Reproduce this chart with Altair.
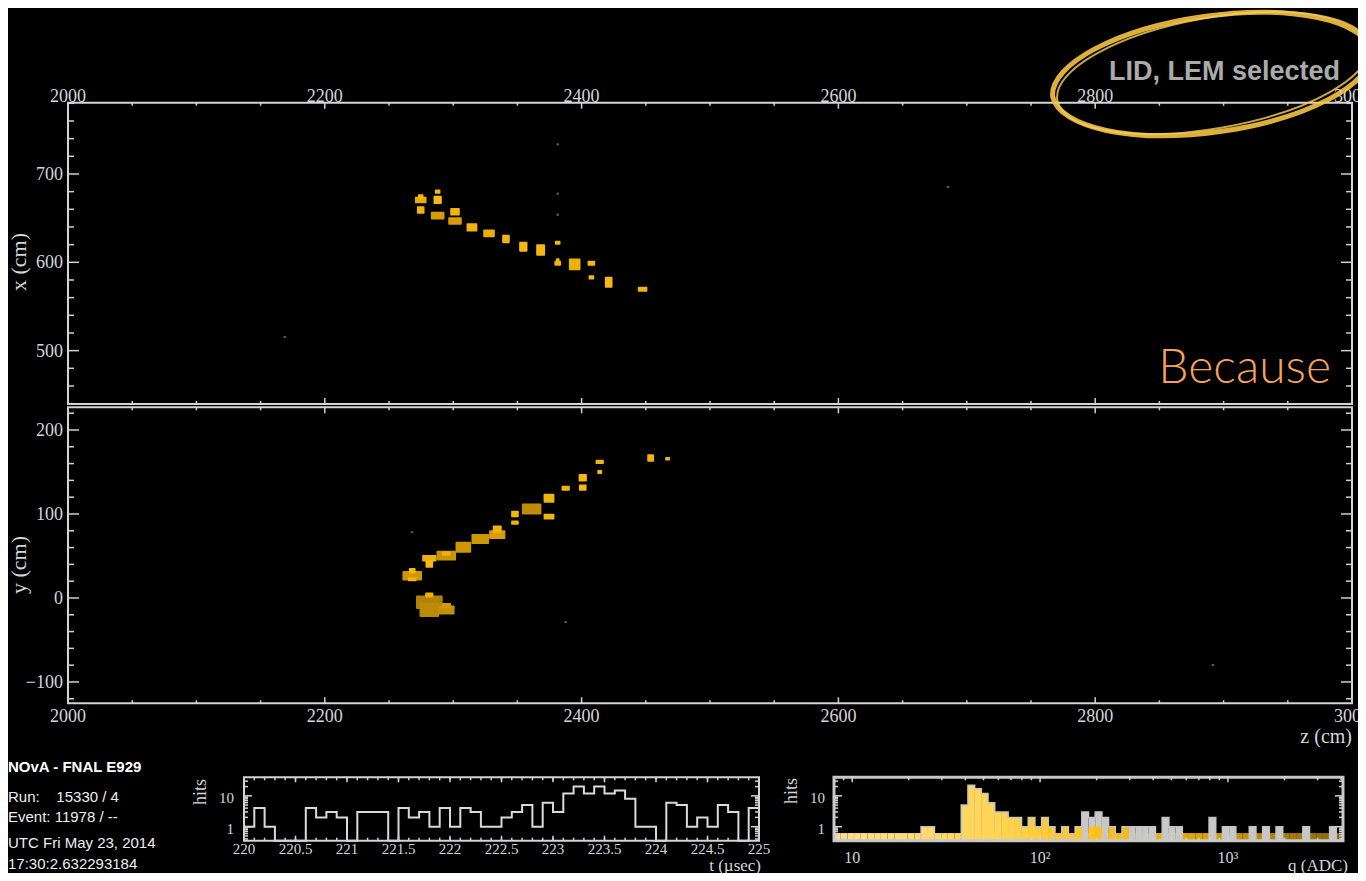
import altair as alt
import numpy as np
import pandas as pd

# ---------------- XZ view hits: z (cm), x (cm), extent dz, dx (cm), charge q (ADC)
xz_z = [2274.7, 2274.7, 2274.7, 2287.9, 2287.9, 2287.9, 2301.4, 2301.4, 2314.6, 2327.9, 2341.1,
        2354.6, 2368.1, 2381.4, 2381.4, 2381.4, 2394.6, 2407.6, 2407.6, 2421.1, 2447.5]
xz_x = [670.6, 674.5, 659.2, 680.0, 670.6, 652.8, 657.3, 646.8, 639.6, 632.8, 626.4,
        617.7, 613.9, 622.2, 598.9, 602.6, 597.7, 598.9, 583.0, 577.4, 569.4]
xz_dz = [7.8, 3.1, 4.7, 3.1, 5.2, 9.3, 6.2, 9.3, 7.2, 7.8, 4.7, 5.2, 5.7, 3.1, 3.9, 1.6, 7.8, 4.7, 3.1, 4.7, 6.2]
xz_dx = [5.7, 3.4, 6.8, 2.8, 7.6, 6.8, 6.8, 6.8, 7.6, 6.8, 7.6, 9.4, 11.3, 2.8, 3.8, 2.3, 11.3, 3.8, 3.0, 10.6, 3.8]
xz_q = [450, 300, 350, 300, 300, 800, 350, 800, 350, 450, 350, 300, 300, 300, 350, 300, 400, 300, 300, 300, 350]

# ---------------- YZ view hits
yz_z = [2268.1, 2294.6, 2307.9, 2321.1, 2361.1, 2281.4, 2281.4, 2294.6, 2334.3,
        2268.1, 2268.1, 2281.4, 2281.4, 2294.6, 2334.3, 2348.1, 2348.1, 2374.6, 2374.6, 2387.6,
        2400.9, 2400.9, 2414.1, 2414.1, 2453.8, 2467.0, 2281.4, 2294.6]
yz_y = [26.5, 50.4, 60.4, 70.2, 106.0, -5.1, -14.3, -14.3, 75.4,
        32.5, 22.3, 47.3, 40.5, 53.0, 81.8, 100.0, 89.7, 118.7, 96.8, 130.6,
        143.2, 131.3, 161.9, 150.0, 166.7, 165.8, 3.6, -9.2]
yz_dz = [14.0, 14.0, 10.9, 12.5, 14.0, 19.5, 14.0, 11.7, 11.4,
         3.9, 5.5, 9.9, 4.7, 5.5, 5.7, 4.7, 4.7, 7.2, 7.2, 5.2,
         5.2, 4.7, 5.2, 2.6, 4.1, 2.6, 5.2, 6.2]
yz_dy = [9.5, 9.5, 11.1, 9.9, 11.1, 13.9, 15.1, 8.7, 8.7,
         4.7, 3.0, 6.0, 7.1, 3.6, 7.1, 6.0, 3.2, 8.7, 5.1, 3.9,
         7.1, 5.6, 3.2, 2.8, 7.1, 2.4, 3.9, 4.8]
yz_q = [1000, 1100, 1000, 1000, 1300, 1800, 1400, 1200, 800,
        300, 350, 400, 300, 400, 350, 300, 350, 350, 350, 350,
        300, 300, 350, 350, 350, 350, 400, 900]

# ---------------- isolated (out-of-slice) hits
nz_xz_z = [2381.4, 2381.4, 2381.4, 2168.8, 2685.4]
nz_xz_x = [733.6, 677.7, 653.9, 515.4, 685.3]
nz_yz_z = [2267.9, 2387.6, 2891.7]
nz_yz_y = [78.3, -28.6, -79.8]

# ---------------- timing histogram (0.1 usec bins from 220 usec)
t_bins = [220.0, 220.1, 220.2, 220.3, 220.4, 220.5, 220.6, 220.7, 220.8, 220.9,
          221.0, 221.1, 221.2, 221.3, 221.4, 221.5, 221.6, 221.7, 221.8, 221.9,
          222.0, 222.1, 222.2, 222.3, 222.4, 222.5, 222.6, 222.7, 222.8, 222.9,
          223.0, 223.1, 223.2, 223.3, 223.4, 223.5, 223.6, 223.7, 223.8, 223.9,
          224.0, 224.1, 224.2, 224.3, 224.4, 224.5, 224.6, 224.7, 224.8, 224.9]
t_hits = [1, 4, 1, 0, 0, 0, 4, 2, 3, 2,
          0, 3, 3, 3, 0, 4, 2, 3, 1, 4,
          1, 4, 3, 1, 1, 2, 3, 5, 1, 6,
          3, 12, 20, 12, 20, 12, 15, 8, 1, 1,
          0, 6, 5, 1, 2, 1, 5, 3, 0, 4]

# ---------------- charge histogram (76 log bins, 8 .. 4096 ADC)
q_all = [0, 0, 0, 0, 0, 0, 0, 0, 0, 0, 0, 0, 0, 1, 1, 0, 0, 0, 0,
         5, 22, 17, 12, 6, 3, 3, 2, 2, 1, 2, 1, 2, 1, 0, 1, 0, 1,
         3, 2, 3, 2, 1, 0, 1, 1, 1, 1, 1, 0, 2, 1, 1, 0, 0, 0, 0, 2, 0, 1, 1,
         0, 0, 1, 0, 1, 0, 1, 0, 0, 0, 1, 0, 0, 0, 1, 0]
q_sel = [0, 0, 0, 0, 0, 0, 0, 0, 0, 0, 0, 0, 0, 1, 1, 0, 0, 0, 0,
         5, 22, 17, 12, 6, 3, 3, 2, 2, 1, 2, 1, 2, 1, 0, 1, 0, 1,
         0, 1, 1, 0, 1, 0, 1, 0, 0, 0, 0, 0, 0, 0, 0, 0, 0, 0, 0, 0, 0, 0, 0,
         0, 0, 0, 0, 0, 0, 0, 0, 0, 0, 0, 0, 0, 0, 0, 0]

# ---------------- axis ticks / labels
z_major = [2000, 2200, 2400, 2600, 2800, 3000]
z_minor = [2050, 2100, 2150, 2250, 2300, 2350, 2450, 2500, 2550, 2650, 2700, 2750, 2850, 2900, 2950]
xv_major = [500, 600, 700]
xv_minor = [440, 460, 480, 520, 540, 560, 580, 620, 640, 660, 680, 720, 740, 760, 780]
yv_major = [-100, 0, 100, 200]
yv_minor = [-120, -80, -60, -40, -20, 20, 40, 60, 80, 120, 140, 160, 180, 220]
t_major = [220, 220.5, 221, 221.5, 222, 222.5, 223, 223.5, 224, 224.5, 225]
t_labels = ['220', '220.5', '221', '221.5', '222', '222.5', '223', '223.5', '224', '224.5', '225']
t_minor = list(t_bins)
q_major = [10, 100, 1000]
q_labels = ['10', '10²', '10³']
q_minor = [9, 20, 30, 40, 50, 60, 70, 80, 90, 200, 300, 400, 500, 600, 700, 800, 900, 2000, 3000, 4000]
h_major = [1, 10]
h_minor = [0.4, 0.5, 0.6, 0.7, 0.8, 0.9, 2, 3, 4, 5, 6, 7, 8, 9, 20, 30]


def pv(v):
    return v - 8  # page pixel -> view pixel


# scales (plot-area placement given as scale ranges)
Z = alt.Scale(domain=[2000, 3000], range=[pv(68), pv(1352)], nice=False, zero=False)
XV = alt.Scale(domain=[439.6, 780.7], range=[pv(404), pv(102.7)], nice=False, zero=False)
YV = alt.Scale(domain=[-125.4, 227], range=[pv(703.3), pv(407.3)], nice=False, zero=False)
T = alt.Scale(domain=[220, 225], range=[pv(244), pv(759)], nice=False, zero=False)
QX = alt.Scale(type='log', domain=[8, 4096], range=[pv(834), pv(1343)], nice=False)
HY = alt.Scale(type='log', domain=[0.35, 40], range=[pv(840.7), pv(777.3)], nice=False)
QCOL = alt.Scale(type='log', domain=[8, 60, 200, 700, 4096],
                 range=['#FFE28A', '#FFD452', '#FFC21A', '#DFA300', '#85650F'], interpolate='rgb')

TICK_C = '#D2D2D2'
LAB_C = '#D4D6DC'
SERIF = 'Liberation Serif'
SANS = 'Liberation Sans'

layers = []


def frame(xs, ys, xd, yd, sw=2.0, color='#D4D4D4'):
    df = pd.DataFrame({'a': [xd[0]], 'b': [xd[1]], 'c': [yd[0]], 'd': [yd[1]]})
    return alt.Chart(df).mark_rect(fillOpacity=0, stroke=color, strokeWidth=sw).encode(
        x=alt.X('a:Q', scale=xs, axis=None), x2='b:Q',
        y=alt.Y('c:Q', scale=ys, axis=None), y2='d:Q')


def ticks_h(vals, ys, x_px, length, sw=1.5):
    df = pd.DataFrame({'v': vals})
    return alt.Chart(df).mark_rule(color=TICK_C, strokeWidth=sw).encode(
        y=alt.Y('v:Q', scale=ys, axis=None),
        x=alt.value(pv(x_px)), x2=alt.value(pv(x_px) + length))


def ticks_v(vals, xs, y_px, length, sw=1.5):
    df = pd.DataFrame({'v': vals})
    return alt.Chart(df).mark_rule(color=TICK_C, strokeWidth=sw).encode(
        x=alt.X('v:Q', scale=xs, axis=None),
        y=alt.value(pv(y_px)), y2=alt.value(pv(y_px) + length))


def labels_x(vals, texts, xs, y_px, size):
    df = pd.DataFrame({'v': vals, 't': texts})
    return alt.Chart(df).mark_text(font=SERIF, fontSize=size, color=LAB_C, align='center',
                                   baseline='alphabetic').encode(
        x=alt.X('v:Q', scale=xs, axis=None), y=alt.value(pv(y_px)), text='t:N')


def labels_y(vals, texts, ys, x_px, size, dy):
    df = pd.DataFrame({'v': vals, 't': texts})
    return alt.Chart(df).mark_text(font=SERIF, fontSize=size, color=LAB_C, align='right',
                                   baseline='alphabetic', dy=dy).encode(
        y=alt.Y('v:Q', scale=ys, axis=None), x=alt.value(pv(x_px)), text='t:N')


def note(text, x_px, y_px, size, font=SERIF, color=LAB_C, align='left', weight='normal', angle=0,
         baseline='alphabetic'):
    df = pd.DataFrame({'t': [text]})
    return alt.Chart(df).mark_text(font=font, fontSize=size, color=color, align=align,
                                   fontWeight=weight, angle=angle, baseline=baseline).encode(
        x=alt.value(pv(x_px)), y=alt.value(pv(y_px)), text='t:N')


def hits(zs, vs, dzs, dvs, qs, ys):
    df = pd.DataFrame({'z': zs, 'v': vs, 'dz': dzs, 'dv': dvs, 'q': qs})
    return alt.Chart(df).transform_calculate(
        z0='datum.z - datum.dz/2', z1='datum.z + datum.dz/2',
        v0='datum.v - datum.dv/2', v1='datum.v + datum.dv/2'
    ).mark_rect(strokeWidth=1.6, strokeJoin='round').encode(
        x=alt.X('z0:Q', scale=Z, axis=None), x2='z1:Q',
        y=alt.Y('v0:Q', scale=ys, axis=None), y2='v1:Q',
        color=alt.Color('q:Q', scale=QCOL, legend=None),
        stroke=alt.Stroke('q:Q', scale=QCOL, legend=None))


def noise(zs, vs, ys):
    df = pd.DataFrame({'z': zs, 'v': vs})
    return alt.Chart(df).transform_calculate(
        z0='datum.z - 1', z1='datum.z + 1', v0='datum.v - 1.2', v1='datum.v + 1.2'
    ).mark_rect(color='#555555').encode(
        x=alt.X('z0:Q', scale=Z, axis=None), x2='z1:Q',
        y=alt.Y('v0:Q', scale=ys, axis=None), y2='v1:Q')


# ---------------- top panel (XZ)
layers += [
    noise(nz_xz_z, nz_xz_x, XV),
    hits(xz_z, xz_x, xz_dz, xz_dx, xz_q, XV),
    frame(Z, XV, [2000, 3000], [439.6, 780.7]),
    ticks_h(xv_minor, XV, 68, 6), ticks_h(xv_major, XV, 68, 11),
    ticks_h(xv_minor, XV, 1352, -6), ticks_h(xv_major, XV, 1352, -11),
    ticks_v(z_minor, Z, 102.7, 3), ticks_v(z_major, Z, 102.7, 6),
    ticks_v(z_minor, Z, 404, -3), ticks_v(z_major, Z, 404, -6),
    labels_x(z_major, [str(v) for v in z_major], Z, 101.5, 18),
    labels_y(xv_major, [str(v) for v in xv_major], XV, 63, 18, 6),
    note('x (cm)', 19, 262, 22, angle=270, align='center', baseline='middle'),
]

# ---------------- bottom panel (YZ)
layers += [
    noise(nz_yz_z, nz_yz_y, YV),
    hits(yz_z, yz_y, yz_dz, yz_dy, yz_q, YV),
    frame(Z, YV, [2000, 3000], [-125.4, 227]),
    ticks_h(yv_minor, YV, 68, 6), ticks_h(yv_major, YV, 68, 11),
    ticks_h(yv_minor, YV, 1352, -6), ticks_h(yv_major, YV, 1352, -11),
    ticks_v(z_minor, Z, 407.3, 3), ticks_v(z_major, Z, 407.3, 6),
    ticks_v(z_minor, Z, 703.3, -3), ticks_v(z_major, Z, 703.3, -6),
    labels_x(z_major, [str(v) for v in z_major], Z, 722, 18),
    labels_y(yv_major, ['\u2212100', '0', '100', '200'], YV, 63, 18, 6),
    note('y (cm)', 19, 565, 22, angle=270, align='center', baseline='middle'),
    note('z (cm)', 1352, 743, 20, align='right'),
]

# ---------------- time histogram
t_df = pd.DataFrame({'t': t_bins + [225.0], 'hits': t_hits + [t_hits[-1]]})
layers += [
    alt.Chart(t_df).transform_calculate(h='max(datum.hits, 0.35)').mark_line(
        interpolate='step-after', color='#DADADA', strokeWidth=2).encode(
        x=alt.X('t:Q', scale=T, axis=None), y=alt.Y('h:Q', scale=HY, axis=None)),
    frame(T, HY, [220, 225], [0.35, 40], sw=2),
    ticks_v(t_minor, T, 777.3, 3), ticks_v(t_major, T, 777.3, 5),
    ticks_v(t_minor, T, 840.7, -3), ticks_v(t_major, T, 840.7, -5),
    ticks_h(h_minor, HY, 244, 4), ticks_h(h_major, HY, 244, 8),
    ticks_h(h_minor, HY, 759, -4), ticks_h(h_major, HY, 759, -8),
    labels_x(t_major, t_labels, T, 854, 15),
    labels_y(h_major, ['1', '10'], HY, 234, 15, 7),
    note('hits', 201, 792, 18, angle=270, align='center', baseline='middle'),
    note('t (\u00b5sec)', 761, 871, 17, align='right'),
]

# ---------------- charge histogram
edges = np.logspace(np.log10(8), np.log10(4096), 77)
q_df = pd.DataFrame({'lo': edges[:-1], 'hi': edges[1:], 'all': q_all, 'sel': q_sel})
q_df['qc'] = np.sqrt(q_df['lo'] * q_df['hi'])
q_line = pd.DataFrame({'e': list(edges), 'n': q_all + [q_all[-1]]})
layers += [
    alt.Chart(q_df).transform_calculate(b='0.35', s='0.62').mark_rect().encode(
        x=alt.X('lo:Q', scale=QX, axis=None), x2='hi:Q',
        y=alt.Y('b:Q', scale=HY, axis=None), y2='s:Q',
        color=alt.Color('qc:Q', scale=QCOL, legend=None)),
    alt.Chart(q_df).transform_filter('datum.all > 0').transform_calculate(b='0.35').mark_rect(
        color='#C8C8C8').encode(
        x=alt.X('lo:Q', scale=QX, axis=None), x2='hi:Q',
        y=alt.Y('b:Q', scale=HY, axis=None), y2='all:Q'),
    alt.Chart(q_df).transform_filter('datum.sel > 0').transform_calculate(b='0.35').mark_rect().encode(
        x=alt.X('lo:Q', scale=QX, axis=None), x2='hi:Q',
        y=alt.Y('b:Q', scale=HY, axis=None), y2='sel:Q',
        color=alt.Color('qc:Q', scale=QCOL, legend=None)),
    alt.Chart(q_line).transform_calculate(h='max(datum.n, 0.35)').mark_line(
        interpolate='step-after', color='#C4C4C4', strokeWidth=1.5).encode(
        x=alt.X('e:Q', scale=QX, axis=None), y=alt.Y('h:Q', scale=HY, axis=None)),
    frame(QX, HY, [8, 4096], [0.35, 40], sw=3, color='#C8C8C8'),
    ticks_v(q_minor, QX, 777.3, 3), ticks_v(q_major, QX, 777.3, 5),
    ticks_v(q_minor, QX, 840.7, -3), ticks_v(q_major, QX, 840.7, -5),
    ticks_h(h_minor, HY, 834, 4), ticks_h(h_major, HY, 834, 8),
    ticks_h(h_minor, HY, 1343, -4), ticks_h(h_major, HY, 1343, -8),
    labels_x(q_major, q_labels, QX, 863, 16),
    labels_y(h_major, ['1', '10'], HY, 825, 15, 7),
    note('hits', 792, 791, 18, angle=270, align='center', baseline='middle'),
    note('q (ADC)', 1348, 871, 17, align='right'),
]

# ---------------- run information
layers += [
    note('NOvA - FNAL E929', 8, 772, 15, font=SANS, color='#FFFFFF', weight='bold'),
    note('Run:\u00a0\u00a0\u00a0\u00a015330 / 4', 8, 802, 15, font=SANS, color='#EEEEEE'),
    note('Event: 11978 / --', 8, 822, 15, font=SANS, color='#EEEEEE'),
    note('UTC Fri May 23, 2014', 8, 848, 15, font=SANS, color='#EEEEEE'),
    note('17:30:2.632293184', 8, 869, 15, font=SANS, color='#EEEEEE'),
]

# ---------------- annotations
ell = 'M -0.990,0.139 A 1,0.37 -8 0,1 0.990,-0.139 A 1,0.37 -8 0,1 -0.990,0.139 Z'
ell2 = 'M -0.985,0.174 A 1,0.35 -10 0,1 0.985,-0.174 A 1,0.35 -10 0,1 -0.985,0.174 Z'
ann = pd.DataFrame({'k': [0]})
layers += [
    alt.Chart(ann).mark_point(shape=ell, size=(2 * 161) ** 2, filled=False, color='#F6C343',
                              strokeWidth=5, opacity=0.9).encode(
        x=alt.value(pv(1212)), y=alt.value(pv(74))),
    alt.Chart(ann).mark_point(shape=ell2, size=(2 * 158) ** 2, filled=False, color='#F8CF5A',
                              strokeWidth=2, opacity=0.8).encode(
        x=alt.value(pv(1213)), y=alt.value(pv(73))),
    note('LID, LEM selected', 1109, 80, 27, font=SANS, color='#ABABAB', weight='bold'),
    note('Because', 1331, 383, 48, font='Lato', color='#F6A35A', weight=300, align='right'),
]

chart = alt.layer(*layers).resolve_scale(
    x='independent', y='independent', color='independent', stroke='independent'
).properties(
    width=1350, height=865, padding=0, background='#000000',
    autosize=alt.AutoSizeParams(type='none')
).configure_view(strokeWidth=0)

chart.save('out.html', embed_options={'renderer': 'svg', 'actions': False})
